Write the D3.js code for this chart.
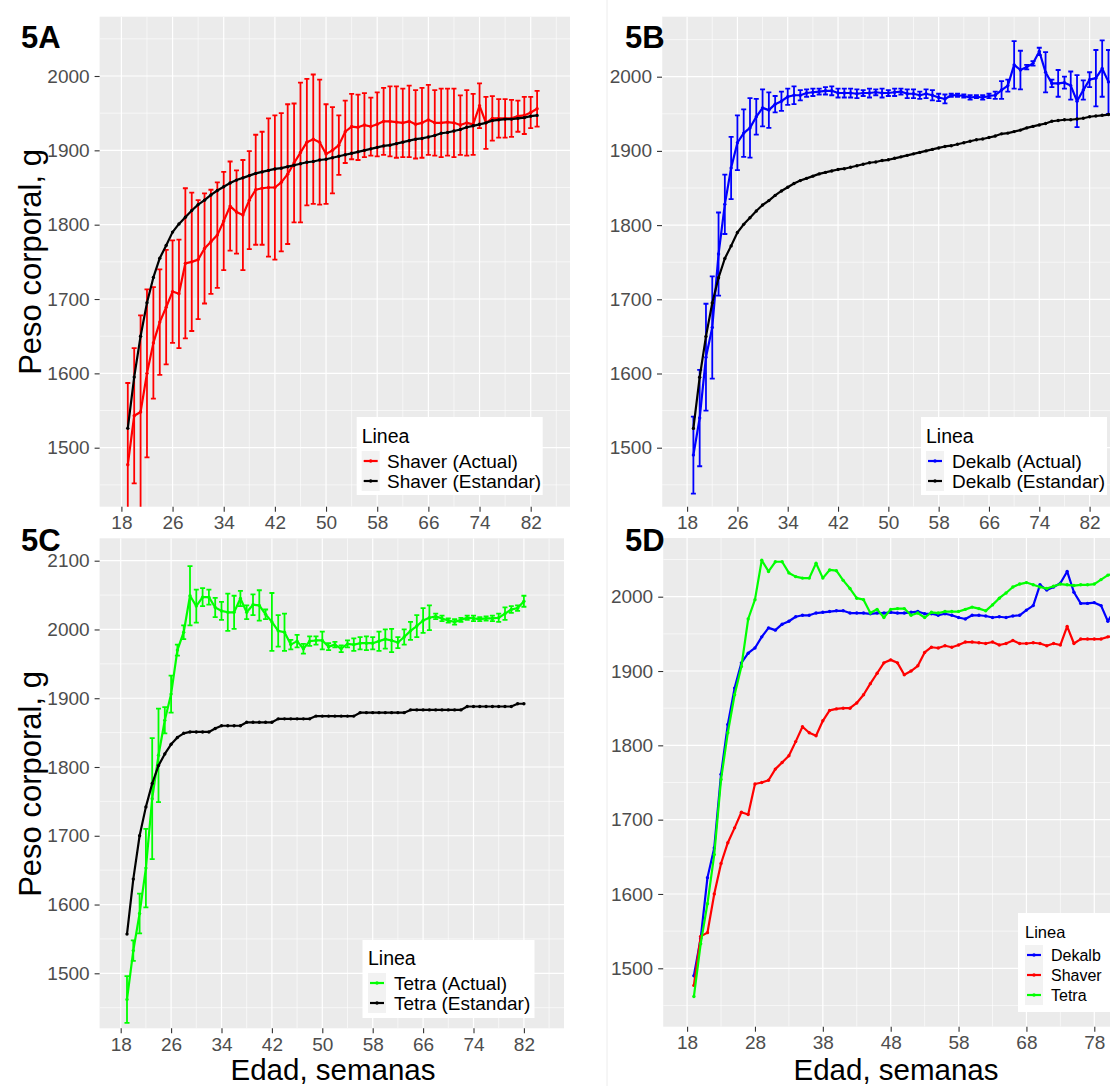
<!DOCTYPE html>
<html>
<head>
  <meta charset="utf-8">
  <script src="https://d3js.org/d3.v7.min.js"></script>
  <style>
    body { margin: 0; background: #fff; }
    text { font-family: Arial, "Liberation Sans", sans-serif; }
  </style>
</head>
<body>
<div id="chart"></div>
<script>
// age in weeks (x categories)
const weeks = [19,20,21,22,23,24,25,26,27,28,29,30,31,32,33,34,35,36,37,38,39,40,41,42,43,44,45,46,47,48,
  49,50,51,52,53,54,55,56,57,58,59,60,61,62,63,64,65,66,67,68,69,70,71,72,73,74,75,76,77,78,79,80,81,82,83,84,85];

const ticksAge8 = [18,26,34,42,50,58,66,74,82];
const ticksAge10 = [18,28,38,48,58,68,78];
const ticksWeight = [1500,1600,1700,1800,1900,2000];
const ticksWeightC = [1500,1600,1700,1800,1900,2000,2100];

// Shaver, weeks 19-83
const shaverActual = [1477,1543,1548,1600,1641,1669,1689,1710,1707,1748, 1750,1753,1768,1777,1786,1805,1825,1817,1813,1833,
  1847,1849,1850,1850,1857,1868,1883,1897,1911,1915, 1911,1895,1900,1907,1925,1932,1931,1934,1932,1935,
  1939,1939,1938,1937,1939,1935,1937,1941,1937,1937, 1938,1937,1934,1937,1935,1960,1937,1943,1943,1943,
  1943,1946,1947,1951,1956];
const shaverErr = [110,91,130,113,75,71,77,69,73,101, 93,80,74,70,71,66,60,56,74,66,
  74,76,93,97,93,94,80,94,85,87, 84,67,58,40,42,44,44,43,39,43,
  45,47,48,46,48,46,47,47,44,46, 45,46,40,44,41,30,35,30,26,26,
  25,21,25,21,24];
const shaverStd = [1526,1595,1650,1695,1729,1755,1772,1790,1801,1810, 1819,1827,1833,1840,1846,1851,1856,1860,1863,1866,
  1869,1871,1873,1875,1876,1878,1880,1882,1884,1885, 1887,1888,1890,1892,1894,1896,1898,1900,1902,1904,
  1906,1907,1909,1911,1913,1915,1916,1918,1920,1923, 1924,1926,1928,1931,1933,1935,1937,1940,1941,1942,
  1942,1943,1944,1946,1947];

// Dekalb, weeks 19-85
const dekalbActual = [1490,1540,1622,1662,1761,1828,1877,1911,1924,1931, 1946,1958,1955,1963,1967,1973,1975,1975,1978,1979,
  1980,1981,1981,1978,1978,1978,1977,1978,1978,1979, 1978,1978,1979,1980,1977,1977,1975,1977,1975,1972,
  1970,1975,1975,1974,1972,1973,1972,1974,1975,1982, 1988,2016,2009,2013,2018,2034,2006,1991,1991,1992,
  1988,1967,1982,1996,1998,2011,1993];
const dekalbErr = [52,65,72,69,56,40,42,37,32,40, 24,25,24,11,13,11,12,7,5,5,
  4,5,6,6,6,6,6,4,6,4, 6,4,5,4,6,6,5,6,7,5,
  6,2,2,2,3,2,3,3,5,12, 8,32,26,3,3,5,27,5,18,8,
  19,35,13,10,38,38,43];
const dekalbStd = [1526,1595,1650,1695,1729,1755,1772,1790,1801,1810, 1819,1827,1833,1840,1846,1851,1856,1860,1863,1866,
  1869,1871,1873,1875,1876,1878,1880,1882,1884,1885, 1887,1888,1890,1892,1894,1896,1898,1900,1902,1904,
  1906,1907,1909,1911,1913,1915,1916,1918,1920,1923, 1924,1926,1928,1931,1933,1935,1937,1940,1941,1942,
  1942,1943,1944,1946,1947,1948,1949];

// Tetra, weeks 19-82
const tetraActual = [1462,1533,1587,1653,1754,1817,1868,1906,1970,1996, 2049,2034,2047,2047,2032,2027,2025,2025,2045,2025,
  2036,2035,2022,2011,1998,1996,1978,1983,1972,1983, 1984,1984,1975,1978,1972,1979,1978,1980,1980,1980,
  1983,1986,1984,1981,1989,1998,2005,2013,2017,2019, 2016,2013,2011,2014,2017,2016,2015,2016,2016,2017,
  2023,2029,2031,2041];
const tetraErr = [34,15,29,57,88,68,19,27,8,10, 43,24,13,11,14,13,27,24,11,10,
  15,22,7,42,23,27,7,9,7,7, 6,13,5,4,5,5,9,9,10,9,
  14,14,17,8,11,13,16,18,18,4, 4,3,4,3,3,4,3,3,4,6,
  9,5,4,8];
const tetraStd = [1557,1637,1700,1742,1776,1802,1819,1833,1843,1849, 1851,1851,1851,1851,1856,1860,1860,1860,1860,1865,
  1865,1865,1865,1865,1870,1870,1870,1870,1870,1870, 1874,1874,1874,1874,1874,1874,1874,1879,1879,1879,
  1879,1879,1879,1879,1879,1883,1883,1883,1883,1883, 1883,1883,1883,1883,1888,1888,1888,1888,1888,1888,
  1888,1888,1892,1892];

const RED = "#ff0000", BLUE = "#0000ff", GREEN = "#00ff00", BLACK = "#000000";

const svg = d3.select("#chart").append("svg")
  .attr("width", 1110).attr("height", 1086);

// faint border of the right-hand images
svg.append("line").attr("x1", 607).attr("x2", 607).attr("y1", 0).attr("y2", 1086)
  .attr("stroke", "#ececec").attr("stroke-width", 1);

const panels = [
  { id: "A", label: "5A", labelPos: [21, 48], box: [99.6, 16.7, 570, 506.7],
    xTicks: ticksAge8, xPx: [121.4, 530.7], yTicks: ticksWeight, yPx: [447.7, 76],
    series: [
      { values: shaverActual, err: shaverErr, color: RED },
      { values: shaverStd, color: BLACK }
    ],
    legend: { x: 356.7, y: 417, w: 186, h: 78, keyX: 361.7, keyW: 18, textX: 387, titleY: 443, rowY: 461, fs: 19,
      items: [["Shaver (Actual)", RED], ["Shaver (Estandar)", BLACK]] },
    yTitle: [41, 262] },
  { id: "B", label: "5B", labelPos: [625, 48], box: [662, 16.7, 1110, 506.7],
    xTicks: ticksAge8, xPx: [687.1, 1089.6], yTicks: ticksWeight, yPx: [447.7, 76.7],
    series: [
      { values: dekalbActual, err: dekalbErr, color: BLUE },
      { values: dekalbStd, color: BLACK }
    ],
    legend: { x: 921, y: 417, w: 186, h: 78, keyX: 926, keyW: 18, textX: 952, titleY: 443, rowY: 461, fs: 19,
      items: [["Dekalb (Actual)", BLUE], ["Dekalb (Estandar)", BLACK]] } },
  { id: "C", label: "5C", labelPos: [21, 551], box: [99.6, 538.3, 564, 1028.3],
    xTicks: ticksAge8, xPx: [120.7, 523.9], yTicks: ticksWeightC, yPx: [973.3, 560.7],
    series: [
      { values: tetraActual, err: tetraErr, color: GREEN },
      { values: tetraStd, color: BLACK }
    ],
    legend: { x: 362.5, y: 940, w: 172, h: 78, keyX: 368, keyW: 18, textX: 394, titleY: 965, rowY: 983, fs: 19,
      items: [["Tetra (Actual)", GREEN], ["Tetra (Estandar)", BLACK]] },
    yTitle: [41, 784], xTitle: [333, 1080] },
  { id: "D", label: "5D", labelPos: [625, 551], box: [663.2, 538, 1110, 1026.7],
    xTicks: ticksAge10, xPx: [687.1, 1094.3], yTicks: ticksWeight, yPx: [968.3, 596.7],
    series: [
      { values: dekalbActual, color: BLUE },
      { values: shaverActual, color: RED },
      { values: tetraActual, color: GREEN }
    ],
    legend: { x: 1018, y: 913, w: 100, h: 99, keyX: 1025, keyW: 18, textX: 1051, titleY: 938, rowY: 955, fs: 16,
      items: [["Dekalb", BLUE], ["Shaver", RED], ["Tetra", GREEN]] },
    xTitle: [896, 1080] }
];

panels.forEach(p => {
  const [x0, y0, x1, y1] = p.box;
  const x = d3.scaleLinear().domain([p.xTicks[0], p.xTicks[p.xTicks.length - 1]]).range(p.xPx);
  const y = d3.scaleLinear().domain([p.yTicks[0], p.yTicks[p.yTicks.length - 1]]).range(p.yPx);
  const g = svg.append("g");

  g.append("rect").attr("x", x0).attr("y", y0).attr("width", x1 - x0).attr("height", y1 - y0)
    .attr("fill", "#ebebeb");

  g.append("clipPath").attr("id", "clip" + p.id)
    .append("rect").attr("x", x0).attr("y", y0).attr("width", x1 - x0).attr("height", y1 - y0);

  // grid
  const xStep = p.xTicks[1] - p.xTicks[0];
  const yStep = p.yTicks[1] - p.yTicks[0];
  const xMinor = p.xTicks.map(t => t - xStep / 2).concat([p.xTicks[p.xTicks.length - 1] + xStep / 2]);
  const yMinor = p.yTicks.map(t => t - yStep / 2).concat([p.yTicks[p.yTicks.length - 1] + yStep / 2]);
  const grid = g.append("g").attr("clip-path", "url(#clip" + p.id + ")");
  grid.selectAll(".xm").data(xMinor).enter().append("line")
    .attr("x1", d => x(d)).attr("x2", d => x(d)).attr("y1", y0).attr("y2", y1)
    .attr("stroke", "#fff").attr("stroke-width", 0.6);
  grid.selectAll(".ym").data(yMinor).enter().append("line")
    .attr("y1", d => y(d)).attr("y2", d => y(d)).attr("x1", x0).attr("x2", x1)
    .attr("stroke", "#fff").attr("stroke-width", 0.6);
  grid.selectAll(".xM").data(p.xTicks).enter().append("line")
    .attr("x1", d => x(d)).attr("x2", d => x(d)).attr("y1", y0).attr("y2", y1)
    .attr("stroke", "#fff").attr("stroke-width", 1.2);
  grid.selectAll(".yM").data(p.yTicks).enter().append("line")
    .attr("y1", d => y(d)).attr("y2", d => y(d)).attr("x1", x0).attr("x2", x1)
    .attr("stroke", "#fff").attr("stroke-width", 1.2);

  // axes
  const styleAxis = a => {
    a.select(".domain").remove();
    a.attr("font-size", 19).attr("font-family", "Arial, 'Liberation Sans', sans-serif");
    a.selectAll("line").attr("stroke", "#333").attr("stroke-width", 1.1);
    a.selectAll("text").attr("fill", "#4d4d4d");
  };
  g.append("g").attr("transform", `translate(${x0},0)`)
    .call(d3.axisLeft(y).tickValues(p.yTicks).tickFormat(d3.format("d")).tickSize(5).tickPadding(5))
    .call(styleAxis);
  g.append("g").attr("transform", `translate(0,${y1})`)
    .call(d3.axisBottom(x).tickValues(p.xTicks).tickFormat(d3.format("d")).tickSize(5).tickPadding(4))
    .call(styleAxis);

  // data
  const plot = g.append("g").attr("clip-path", "url(#clip" + p.id + ")");
  const line = d3.line().x((d, i) => x(weeks[i])).y(d => y(d));
  p.series.forEach(s => {
    const sg = plot.append("g");
    if (s.err) {
      const eb = sg.selectAll(".eb").data(s.values).enter().append("g");
      eb.append("line")
        .attr("x1", (d, i) => x(weeks[i])).attr("x2", (d, i) => x(weeks[i]))
        .attr("y1", (d, i) => y(d - s.err[i])).attr("y2", (d, i) => y(d + s.err[i]))
        .attr("stroke", s.color).attr("stroke-width", 1.8);
      [-1, 1].forEach(sign => {
        eb.append("line")
          .attr("x1", (d, i) => x(weeks[i]) - 2.5).attr("x2", (d, i) => x(weeks[i]) + 2.5)
          .attr("y1", (d, i) => y(d + sign * s.err[i])).attr("y2", (d, i) => y(d + sign * s.err[i]))
          .attr("stroke", s.color).attr("stroke-width", 1.8);
      });
    }
    sg.append("path").datum(s.values).attr("d", line)
      .attr("fill", "none").attr("stroke", s.color).attr("stroke-width", 2.2)
      .attr("stroke-linejoin", "round");
    sg.selectAll(".pt").data(s.values).enter().append("circle")
      .attr("cx", (d, i) => x(weeks[i])).attr("cy", d => y(d)).attr("r", 1.7)
      .attr("fill", s.color);
  });

  // panel label
  svg.append("text").attr("x", p.labelPos[0]).attr("y", p.labelPos[1])
    .attr("font-size", 31).attr("font-weight", "bold").attr("fill", "#000").text(p.label);

  // legend
  const L = p.legend;
  const lg = svg.append("g");
  lg.append("rect").attr("x", L.x).attr("y", L.y).attr("width", L.w).attr("height", L.h).attr("fill", "#fff");
  lg.append("text").attr("x", L.keyX).attr("y", L.titleY).attr("font-size", L.fs + 0.5).attr("fill", "#000").text("Linea");
  L.items.forEach((it, i) => {
    const cy = L.rowY + i * 20;
    lg.append("rect").attr("x", L.keyX).attr("y", cy - 10).attr("width", L.keyW).attr("height", 20)
      .attr("fill", "#f2f2f2");
    lg.append("line").attr("x1", L.keyX + 2).attr("x2", L.keyX + L.keyW - 2).attr("y1", cy).attr("y2", cy)
      .attr("stroke", it[1]).attr("stroke-width", 2.2);
    lg.append("circle").attr("cx", L.keyX + L.keyW / 2).attr("cy", cy).attr("r", 1.7).attr("fill", it[1]);
    lg.append("text").attr("x", L.textX).attr("y", cy + L.fs * 0.37).attr("font-size", L.fs).attr("fill", "#000").text(it[0]);
  });

  if (p.yTitle) {
    svg.append("text").attr("transform", `translate(${p.yTitle[0]},${p.yTitle[1]}) rotate(-90)`)
      .attr("text-anchor", "middle").attr("font-size", 31).attr("fill", "#000").text("Peso corporal, g");
  }
  if (p.xTitle) {
    svg.append("text").attr("x", p.xTitle[0]).attr("y", p.xTitle[1])
      .attr("text-anchor", "middle").attr("font-size", 29.5).attr("fill", "#000").text("Edad, semanas");
  }
});
</script>
</body>
</html>
